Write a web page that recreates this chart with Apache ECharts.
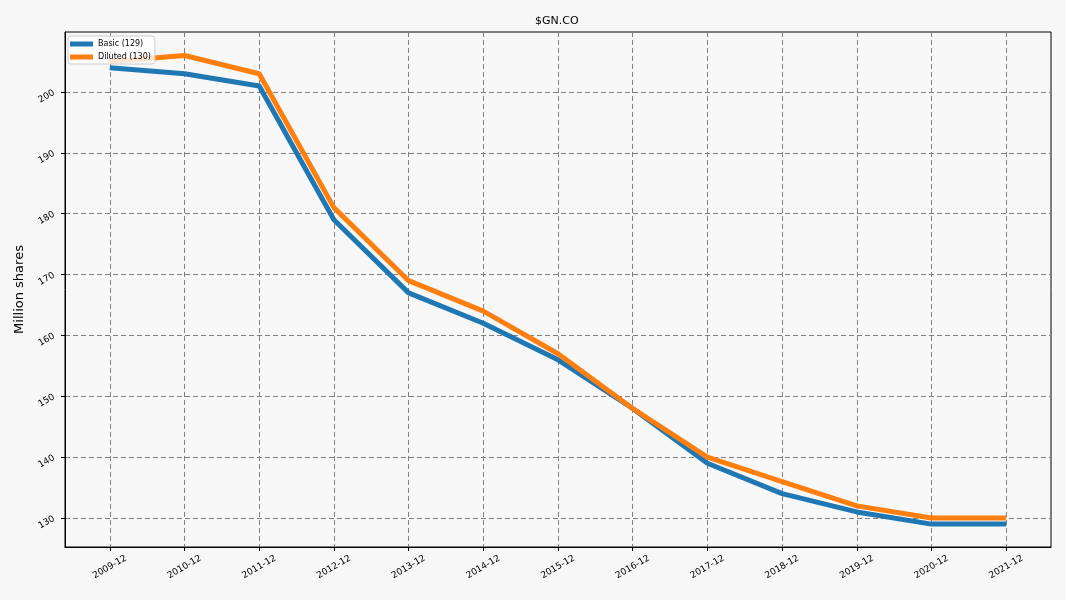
<!DOCTYPE html>
<html>
<head>
<meta charset="utf-8">
<script src="https://cdn.jsdelivr.net/npm/echarts@6/dist/echarts.min.js"></script>
<style>
  html, body { margin: 0; padding: 0; background: #f7f7f7; }
  #chart { width: 1066px; height: 600px; }
</style>
</head>
<body>
<div id="chart"></div>
<script>
// 数据：期末股数（百万股）
const categories = ['2009-12', '2010-12', '2011-12', '2012-12', '2013-12', '2014-12', '2015-12',
  '2016-12', '2017-12', '2018-12', '2019-12', '2020-12', '2021-12']
const basic = [204, 203, 201, 179, 167, 162, 156, 148, 139, 134, 131, 129, 129]
const diluted = [205, 206, 203, 181, 169, 164, 157, 148, 140, 136, 132, 130, 130]
const yTicks = [130, 140, 150, 160, 170, 180, 190, 200]

// x 用数值轴（索引），这样两侧留白可以和原图一致
const xIdx = categories.map((_, i) => i)
const toPoints = (arr) => arr.map((v, i) => [i, v])

const font = 'DejaVu Sans'
const dashed = { show: true, lineStyle: { color: '#808080', type: [5, 3], width: 1 } }

const chart = echarts.init(document.getElementById('chart'), null, { renderer: 'canvas' })
chart.setOption({
  backgroundColor: '#f7f7f7',
  animation: false,
  title: {
    text: '$GN.CO',
    left: 530,
    top: 11,
    textStyle: { fontFamily: font, fontSize: 11, fontWeight: 'normal', color: '#000' },
  },
  legend: {
    orient: 'vertical',
    left: 68,
    top: 36,
    icon: 'rect',
    itemWidth: 23,
    itemHeight: 5,
    itemGap: 5,
    padding: [4, 4, 3, 2],
    backgroundColor: 'rgba(255,255,255,0.8)',
    borderColor: '#cccccc',
    borderWidth: 1,
    borderRadius: 3,
    textStyle: { fontFamily: font, fontSize: 8, color: '#000' },
    data: ['Basic (129)', 'Diluted (130)'],
  },
  grid: {
    left: 65, right: 15, top: 32, bottom: 53,
    show: true, borderColor: '#000', borderWidth: 1, backgroundColor: 'transparent',
  },
  xAxis: {
    type: 'value',
    min: -0.6,
    max: 12.6,
    axisLine: { show: true, onZero: false, lineStyle: { color: '#000' } },
    axisTick: { show: true, length: 4, lineStyle: { color: '#000' }, customValues: xIdx },
    axisLabel: {
      customValues: xIdx,
      rotate: 30,
      align: 'center',
      verticalAlign: 'middle',
      fontFamily: font,
      fontSize: 9,
      color: '#000',
      margin: 20,
      formatter: (v) => categories[Math.round(v)] || '',
    },
    splitLine: dashed,
  },
  yAxis: {
    type: 'value',
    min: 125.24,
    max: 209.86,
    name: 'Million shares',
    nameLocation: 'middle',
    nameGap: 35,
    nameTextStyle: { fontFamily: font, fontSize: 13, color: '#000' },
    axisLine: { show: true, onZero: false, lineStyle: { color: '#000' } },
    axisTick: { show: true, length: 4, lineStyle: { color: '#000' }, customValues: yTicks },
    axisLabel: {
      customValues: yTicks,
      rotate: 30,
      fontFamily: font,
      fontSize: 9,
      color: '#000',
      margin: 11,
    },
    splitLine: dashed,
  },
  series: [
    {
      name: 'Basic (129)',
      type: 'line',
      data: toPoints(basic),
      showSymbol: false,
      lineStyle: { width: 5, color: '#1f77b4' },
      itemStyle: { color: '#1f77b4' },
      z: 2,
    },
    {
      name: 'Diluted (130)',
      type: 'line',
      data: toPoints(diluted),
      showSymbol: false,
      lineStyle: { width: 5, color: '#ff7f0e' },
      itemStyle: { color: '#ff7f0e' },
      z: 3,
    },
  ],
})
</script>
</body>
</html>
